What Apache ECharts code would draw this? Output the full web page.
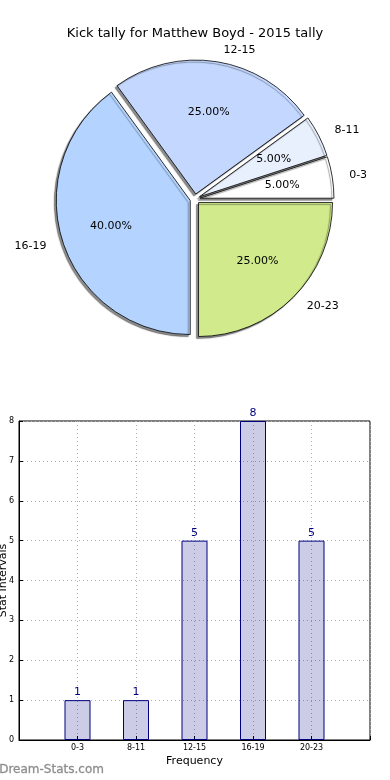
<!DOCTYPE html>
<html>
<head>
<meta charset="utf-8">
<script src="https://cdn.jsdelivr.net/npm/echarts@6/dist/echarts.min.js"></script>
<style>
html,body{margin:0;padding:0;background:#fff;}
#main{width:390px;height:780px;}
</style>
</head>
<body>
<div id="main"></div>
<script>
const titleText = 'Kick tally for Matthew Boyd - 2015 tally';
const categories = ['0-3', '8-11', '12-15', '16-19', '20-23'];
const counts = [1, 1, 5, 8, 5];
const sliceColors = ['#ffffff', '#e8f0fe', '#c4d8ff', '#b4d4ff', '#d0ea8c'];
const yTicks = [0, 1, 2, 3, 4, 5, 6, 7, 8];
const xAxisName = 'Frequency';
const yAxisName = 'Stat Intervals';
const watermark = 'Dream-Stats.com';

const FONT = 'DejaVu Sans';
const total = counts.reduce((a, b) => a + b, 0);

const pieCenter = [195, 199];
const R = 134;

const pieData = categories.map((c, i) => ({
  name: c,
  value: counts[i],
  selected: true,
  itemStyle: { color: sliceColors[i] }
}));
const pctData = categories.map((c, i) => ({
  name: c,
  value: counts[i],
  selected: true
}));

const chart = echarts.init(document.getElementById('main'), null, { renderer: 'canvas' });
chart.setOption({
  animation: false,
  backgroundColor: '#ffffff',
  textStyle: { fontFamily: FONT },
  title: {
    text: titleText,
    left: 'center',
    top: 22,
    textStyle: { fontFamily: FONT, fontSize: 13, fontWeight: 'normal', color: '#000' }
  },
  graphic: [{
    type: 'text',
    left: -1,
    top: 764,
    style: { text: watermark, font: '12px "DejaVu Sans"', fill: '#8c8c8c', stroke: '#b0b0b0', lineWidth: 0.4 },
    silent: true
  }],
  grid: {
    left: 19, right: 20, top: 421, bottom: 40,
    outerBoundsMode: 'none',
    containLabel: false,
    show: true, borderColor: '#000', borderWidth: 1, backgroundColor: 'transparent'
  },
  xAxis: {
    type: 'value',
    min: -1, max: 5, interval: 1,
    name: xAxisName,
    nameLocation: 'middle',
    nameGap: 16,
    nameMoveOverlap: false,
    nameTextStyle: { fontFamily: FONT, fontSize: 11, color: '#000' },
    axisLine: { show: true, onZero: false, lineStyle: { color: '#000' } },
    axisTick: { show: true, inside: true, length: 4, lineStyle: { color: '#000' } },
    axisLabel: {
      fontFamily: FONT, fontSize: 8, color: '#000', margin: 4,
      formatter: v => (categories[v] !== undefined ? categories[v] : '')
    },
    splitLine: { show: true, lineStyle: { color: '#b0b0b0', type: [1, 3], width: 1 } }
  },
  yAxis: {
    type: 'value',
    min: yTicks[0], max: yTicks[yTicks.length - 1], interval: 1,
    name: yAxisName,
    nameLocation: 'middle',
    nameRotate: 90,
    nameGap: 10,
    nameMoveOverlap: false,
    nameTextStyle: { fontFamily: FONT, fontSize: 11, color: '#000' },
    axisLine: { show: true, onZero: false, lineStyle: { color: '#000' } },
    axisTick: { show: true, inside: true, length: 4, lineStyle: { color: '#000' } },
    axisLabel: { fontFamily: FONT, fontSize: 8, color: '#000', margin: 5 },
    splitLine: { show: true, lineStyle: { color: '#b0b0b0', type: [1, 3], width: 1 } }
  },
  series: [
    {
      type: 'pie',
      center: pieCenter,
      radius: R,
      startAngle: 0,
      clockwise: false,
      selectedMode: 'multiple',
      selectedOffset: 5,
      avoidLabelOverlap: false,
      silent: true,
      itemStyle: {
        borderColor: '#000', borderWidth: 0.8,
        shadowColor: 'rgba(0,0,0,0.45)', shadowOffsetX: -2, shadowOffsetY: 2, shadowBlur: 1
      },
      label: {
        show: true, position: 'outside', fontFamily: FONT, fontSize: 11, color: '#000',
        formatter: '{b}', distanceToLabelLine: 5
      },
      labelLine: { show: false, length: 12, length2: 0 },
      emphasis: { disabled: true },
      data: pieData
    },
    {
      type: 'pie',
      center: pieCenter,
      radius: [R * 0.2, R],
      startAngle: 0,
      clockwise: false,
      selectedMode: 'multiple',
      selectedOffset: 5,
      avoidLabelOverlap: false,
      silent: true,
      itemStyle: { color: 'rgba(0,0,0,0)', borderWidth: 0 },
      label: {
        show: true, position: 'inside', fontFamily: FONT, fontSize: 11, color: '#000',
        formatter: p => (p.value / total * 100).toFixed(2) + '%'
      },
      labelLine: { show: false },
      emphasis: { disabled: true },
      data: pctData
    },
    {
      type: 'bar',
      data: counts.map((v, i) => [i, v]),
      barWidth: 26,
      itemStyle: { color: 'rgba(0,0,128,0.2)', borderColor: '#000080', borderWidth: 1 },
      label: {
        show: true, position: 'top', distance: 2,
        fontFamily: FONT, fontSize: 11, color: '#000080'
      },
      silent: true
    }
  ]
});
</script>
</body>
</html>
